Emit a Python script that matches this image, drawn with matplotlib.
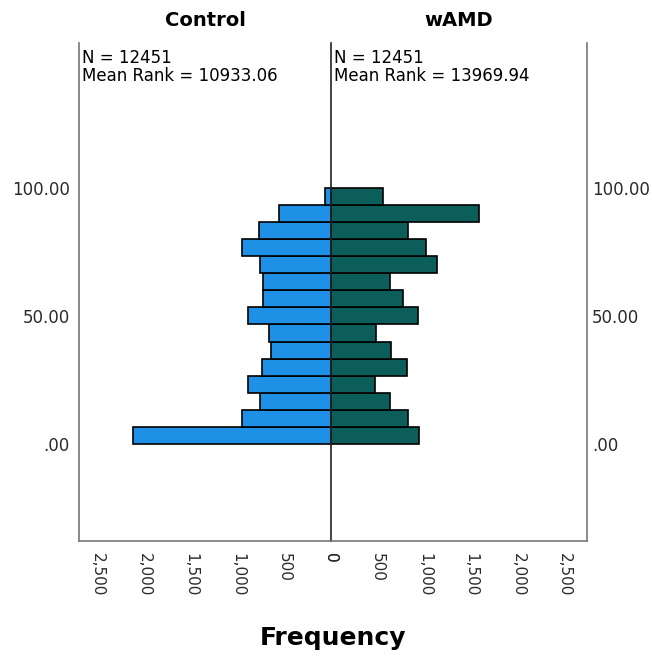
import matplotlib
matplotlib.use("Agg")
import matplotlib.pyplot as plt
import numpy as np

plt.rcParams['font.family'] = ['DejaVu Sans']

bin_edges = np.linspace(0, 100, 16)
# counts from bottom bin (0) to top bin (100)
control_counts = [2117, 957, 755, 883, 734, 638, 660, 883, 723, 723, 755, 957, 766, 553, 65]
wamd_counts = [936, 819, 628, 468, 809, 638, 479, 926, 766, 628, 1138, 1021, 819, 1585, 553]
groups = ["Control", "wAMD"]
n_values = [12451, 12451]
mean_ranks = [10933.06, 13969.94]
y_ticks = [0, 50, 100]
y_ticklabels = [".00", "50.00", "100.00"]
x_ticks = [0, 500, 1000, 1500, 2000, 2500]
x_ticklabels = ["0", "500", "1,000", "1,500", "2,000", "2,500"]

W, H = 652, 658
fig = plt.figure(figsize=(W/100, H/100), dpi=100)

left_px, mid_px, right_px = 79, 331, 587
top_px, bot_px = 43, 541
scale = 0.0935  # px per unit
axL = fig.add_axes([left_px/W, 1-bot_px/H, (mid_px-left_px)/W, (bot_px-top_px)/H])
axR = fig.add_axes([mid_px/W, 1-bot_px/H, (right_px-mid_px)/W, (bot_px-top_px)/H])

colors = ["#1E90E6", "#0C5E5A"]
heights = np.diff(bin_edges)
for ax, counts, col in [(axL, control_counts, colors[0]), (axR, wamd_counts, colors[1])]:
    ax.barh(bin_edges[:-1], counts, height=heights, align='edge', color=col,
            edgecolor='black', linewidth=1.2, zorder=2)
    ax.set_ylim(-37.9, 156.6)
    ax.spines['top'].set_visible(False)
    for s in ['left', 'right', 'bottom']:
        ax.spines[s].set_color('#777777')
        ax.spines[s].set_linewidth(1.2)
    ax.set_xticks(x_ticks)
    ax.set_xticklabels(x_ticklabels, rotation=-90, fontsize=11, color='#2a2a2a')
    ax.tick_params(axis='x', length=0, pad=8.5)
    ax.tick_params(axis='y', length=0)

axL.set_xlim((mid_px-left_px)/scale, 0)
axR.set_xlim(0, (right_px-mid_px)/scale)

axL.set_yticks(y_ticks)
axL.set_yticklabels(y_ticklabels, fontsize=12, color='#2a2a2a')
axL.tick_params(axis='y', pad=6.5)
axL.spines['right'].set_visible(False)

axR.set_yticks(y_ticks)
axR.yaxis.tick_right()
axR.set_yticklabels(y_ticklabels, fontsize=12, color='#2a2a2a')
axR.tick_params(axis='y', pad=3.5, length=0)
axR.spines['left'].set_color('#222222')

for ax, g, n, mr in zip([axL, axR], groups, n_values, mean_ranks):
    ax.text(0.5, 1.0 + 22/(bot_px-top_px), g, transform=ax.transAxes, ha='center',
            va='center', fontsize=14, fontweight='bold')
    ax.text(3/ (ax.get_position().width*W), 1 - 6/(bot_px-top_px),
            f"N = {n}\nMean Rank = {mr:.2f}", transform=ax.transAxes,
            ha='left', va='top', fontsize=12, linespacing=1.0)

fig.text((left_px+right_px)/2/W, 1-638/H, "Frequency", ha='center', va='center',
         fontsize=18, fontweight='bold')

fig.savefig("out.png", dpi=100, facecolor='white')
